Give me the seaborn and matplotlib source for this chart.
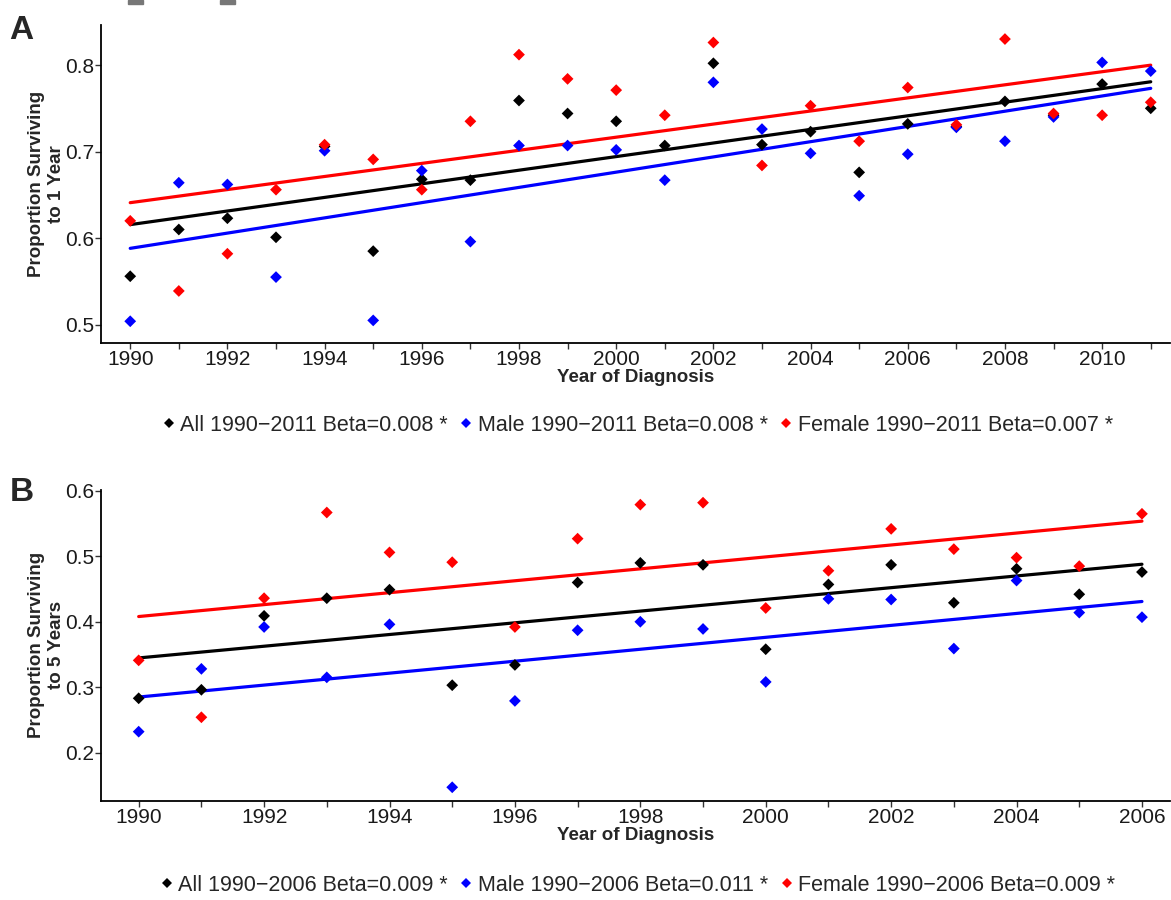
import numpy as np
import pandas as pd
import seaborn as sns
import matplotlib.pyplot as plt
from matplotlib.patches import Rectangle

# Jahre
years_1yr = np.arange(1990, 2012)
years_5yr = np.arange(1990, 2007)

# 1-Jahres-Überleben
all_1yr = [0.556, 0.610, 0.623, 0.601, 0.706, 0.585, 0.668, 0.667, 0.759, 0.744, 0.735,
           0.707, 0.802, 0.708, 0.723, 0.676, 0.732, 0.729, 0.758, 0.742, 0.778, 0.750]
male_1yr = [0.504, 0.664, 0.662, 0.555, 0.701, 0.505, 0.678, 0.596, 0.707, 0.707, 0.702,
            0.667, 0.780, 0.726, 0.698, 0.649, 0.697, 0.728, 0.712, 0.740, 0.803, 0.793]
female_1yr = [0.620, 0.539, 0.582, 0.656, 0.708, 0.691, 0.656, 0.735, 0.812, 0.784, 0.771,
              0.742, 0.826, 0.684, 0.753, 0.712, 0.774, 0.731, 0.830, 0.744, 0.742, 0.757]

# 5-Jahres-Überleben
all_5yr = [0.283, 0.296, 0.409, 0.436, 0.449, 0.303, 0.334, 0.460, 0.490, 0.487, 0.358,
           0.457, 0.487, 0.429, 0.481, 0.442, 0.476]
male_5yr = [0.232, 0.328, 0.392, 0.315, 0.396, 0.147, 0.279, 0.387, 0.400, 0.389, 0.308,
            0.435, 0.434, 0.359, 0.463, 0.414, 0.407]
female_5yr = [0.341, 0.254, 0.436, 0.567, 0.506, 0.491, 0.392, 0.527, 0.579, 0.582, 0.421,
              0.478, 0.542, 0.511, 0.498, 0.485, 0.565]

labels_1yr = ['All 1990\u22122011 Beta=0.008 *', 'Male 1990\u22122011 Beta=0.008 *',
              'Female 1990\u22122011 Beta=0.007 *']
labels_5yr = ['All 1990\u22122006 Beta=0.009 *', 'Male 1990\u22122006 Beta=0.011 *',
              'Female 1990\u22122006 Beta=0.009 *']
colors = ['black', 'blue', 'red']

sns.set_theme(style='ticks')
plt.rcParams['font.family'] = ['Liberation Sans', 'DejaVu Sans']


def make_df(years, series, labels):
    parts = []
    for vals, lab in zip(series, labels):
        parts.append(pd.DataFrame({'Year': years, 'Prop': vals, 'Group': lab}))
    return pd.concat(parts, ignore_index=True)


def draw_panel(ax, df, labels, xlim, ylim, yticks, xticks, ylabel, leg_y):
    for lab, col in zip(labels, colors):
        sub = df[df['Group'] == lab]
        sns.regplot(data=sub, x='Year', y='Prop', ax=ax, scatter=False, ci=None,
                    truncate=True, color=col, line_kws={'linewidth': 2.3})
    sns.scatterplot(data=df, x='Year', y='Prop', hue='Group', hue_order=labels,
                    palette=colors, marker='D', s=36, linewidth=0, ax=ax, zorder=3)
    ax.set_xlim(*xlim)
    ax.set_ylim(*ylim)
    ax.set_xticks(xticks)
    ax.set_xticklabels([str(t) for t in xticks])
    ax.set_xticks(np.arange(xticks[0], xlim[1], 1), minor=True)
    ax.set_yticks(yticks)
    ax.set_yticklabels([f'{t:.1f}' for t in yticks])
    ax.tick_params(axis='both', which='both', length=4, width=1, color='#333333',
                   labelsize=15, labelcolor='#1a1a1a', pad=1)
    for sp in ['left', 'bottom']:
        ax.spines[sp].set_linewidth(1.3)
        ax.spines[sp].set_color('black')
    sns.despine(ax=ax)
    ax.set_xlabel('Year of Diagnosis', fontsize=13.5, fontweight='bold', labelpad=0)
    ax.set_ylabel(ylabel, fontsize=13.5, fontweight='bold', labelpad=0)
    sns.move_legend(ax, 'center', bbox_to_anchor=(0.5, leg_y), ncol=3,
                    frameon=False, title=None, fontsize=15.5, handletextpad=0.05,
                    columnspacing=0.35, markerscale=0.85, handlelength=1.0)


fig = plt.figure(figsize=(11.71, 9), dpi=100)
ax1 = fig.add_axes([0.0863, 0.619, 0.913, 0.353])
ax2 = fig.add_axes([0.0863, 0.110, 0.913, 0.346])

df1 = make_df(years_1yr, [all_1yr, male_1yr, female_1yr], labels_1yr)
df2 = make_df(years_5yr, [all_5yr, male_5yr, female_5yr], labels_5yr)

draw_panel(ax1, df1, labels_1yr, (1989.4, 2011.4), (0.479, 0.846),
           [0.5, 0.6, 0.7, 0.8], list(range(1990, 2012, 2)),
           'Proportion Surviving\nto 1 Year', -0.26)
draw_panel(ax2, df2, labels_5yr, (1989.4, 2006.45), (0.126, 0.602),
           [0.2, 0.3, 0.4, 0.5, 0.6], list(range(1990, 2007, 2)),
           'Proportion Surviving\nto 5 Years', -0.27)

fig.text(0.008, 0.966, 'A', fontsize=24, fontweight='bold', va='center')
fig.text(0.008, 0.453, 'B', fontsize=24, fontweight='bold', va='center')

# abgeschnittene graue Reste oben
fig.patches.append(Rectangle((128 / 1171, 1 - 4 / 900), 15 / 1171, 4 / 900,
                             transform=fig.transFigure, color='#777777'))
fig.patches.append(Rectangle((220 / 1171, 1 - 4 / 900), 15 / 1171, 4 / 900,
                             transform=fig.transFigure, color='#777777'))

fig.savefig('out.png', dpi=100, facecolor='white')
